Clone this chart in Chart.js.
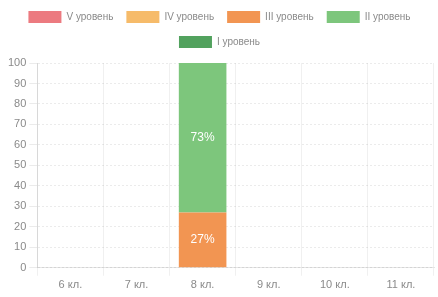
<!DOCTYPE html>
<html>
<head>
<meta charset="utf-8">
<script src="https://cdn.jsdelivr.net/npm/chart.js@4"></script>
<style>
  html, body { margin: 0; padding: 0; background: #fff; }
  #wrap { width: 438px; height: 297px; }
</style>
</head>
<body>
<div id="wrap"><canvas id="chart"></canvas></div>
<script>
const classes = ['6 кл.', '7 кл.', '8 кл.', '9 кл.', '10 кл.', '11 кл.'];
const levelNames = ['V уровень', 'IV уровень', 'III уровень', 'II уровень', 'I уровень'];
const levelColors = ['#ec7a80', '#f6bb6a', '#f29552', '#7dc67c', '#52a25e'];

const level5 = [0, 0, 0, 0, 0, 0];
const level4 = [0, 0, 0, 0, 0, 0];
const level3 = [0, 0, 27, 0, 0, 0];
const level2 = [0, 0, 73, 0, 0, 0];
const level1 = [0, 0, 0, 0, 0, 0];

const yMax = 100;
const yStep = 10;

const fontFamily = '"Liberation Sans Narrow", "Liberation Sans", sans-serif';

// подписи процентов внутри столбцов
const barLabels = {
  id: 'barLabels',
  afterDatasetsDraw(chart) {
    const ctx = chart.ctx;
    ctx.save();
    ctx.fillStyle = '#ffffff';
    ctx.font = '12px ' + fontFamily;
    ctx.textAlign = 'center';
    ctx.textBaseline = 'middle';
    chart.data.datasets.forEach((ds, i) => {
      chart.getDatasetMeta(i).data.forEach((bar, j) => {
        const v = ds.data[j];
        if (!v) return;
        const mid = (bar.y + bar.base) / 2;
        ctx.fillText(v + '%', bar.x, mid);
      });
    });
    ctx.restore();
  }
};

// немного места под легендой
const legendGap = {
  id: 'legendGap',
  beforeInit(chart) {
    const origFit = chart.legend.fit;
    chart.legend.fit = function () {
      origFit.bind(chart.legend)();
      this.height += 5;
    };
  }
};

const series = [level5, level4, level3, level2, level1];

new Chart(document.getElementById('chart'), {
  type: 'bar',
  data: {
    labels: classes,
    datasets: series.map((data, i) => ({
      label: levelNames[i],
      data,
      backgroundColor: levelColors[i],
      borderWidth: 0
    }))
  },
  options: {
    responsive: true,
    maintainAspectRatio: false,
    animation: false,
    layout: { padding: { left: 5, right: 4, bottom: 2, top: -2 } },
    plugins: {
      legend: {
        position: 'top',
        labels: {
          boxWidth: 33,
          boxHeight: 12,
          padding: 13,
          color: '#8a8a8a',
          font: { size: 10, family: fontFamily }
        }
      },
      tooltip: { enabled: false }
    },
    scales: {
      x: {
        stacked: true,
        grid: { color: 'rgba(0,0,0,0.06)' },
        ticks: {
          color: '#8a8a8a',
          font: { size: 11, family: fontFamily }
        }
      },
      y: {
        stacked: true,
        min: 0,
        max: yMax,
        ticks: {
          stepSize: yStep,
          color: '#8a8a8a',
          font: { size: 11, family: fontFamily }
        },
        grid: { color: 'rgba(0,0,0,0.08)' },
        border: { dash: [2, 2] }
      }
    }
  },
  plugins: [barLabels, legendGap]
});
</script>
</body>
</html>
